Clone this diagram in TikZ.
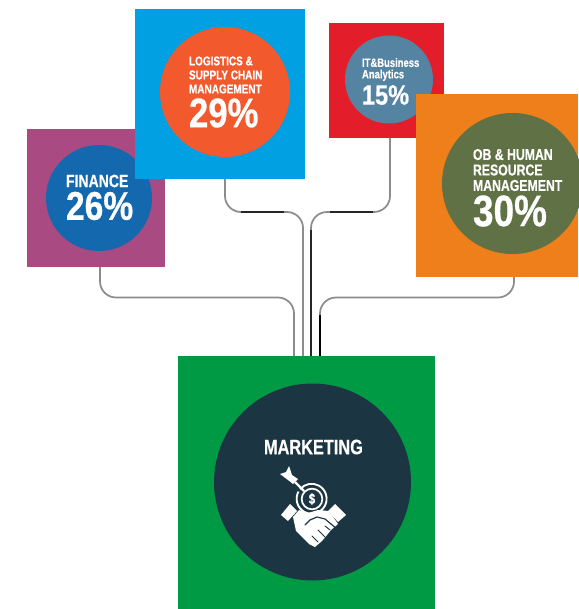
\documentclass[tikz,border=0pt]{standalone}
\usepackage{fontspec}
\setmainfont{Liberation Sans}
\newfontfamily\cond[FakeStretch=0.78,FakeBold=0.4]{Liberation Sans Bold}
\newfontfamily\condpc[FakeStretch=0.84,FakeBold=0.6]{Liberation Sans Bold}
\usetikzlibrary{calc}
\definecolor{finsq}{HTML}{A94A82}
\definecolor{fincc}{HTML}{1468AE}
\definecolor{logsq}{HTML}{00A0E3}
\definecolor{logcc}{HTML}{F2592D}
\definecolor{itsq}{HTML}{E31E2A}
\definecolor{itcc}{HTML}{5584A3}
\definecolor{obsq}{HTML}{EE7F1A}
\definecolor{obcc}{HTML}{5F7145}
\definecolor{mksq}{HTML}{009A44}
\definecolor{mkcc}{HTML}{1C3542}
\newcommand{\pxfont}[2]{\fontsize{#1}{#2}\selectfont\cond}
\newcommand{\pcfont}[1]{\fontsize{#1}{#1}\selectfont\condpc}
\tikzset{
 x=0.75pt,y=-0.75pt,
 sq/.style={draw=none,inner sep=0,outer sep=0,minimum size=#1*0.75pt,shape=rectangle},
 cc/.style={draw=none,inner sep=0,outer sep=0,minimum size=#1*1.5pt,shape=circle},
 lab/.style={anchor=west,inner sep=0,outer sep=0,text=white,align=left},
 link/.style={draw=black!45,line width=1.3pt,rounded corners=12pt},
 linkdark/.style={draw=black!85,line width=1pt},
 ink/.style={fill=white,draw=none},
}
\begin{document}
\begin{tikzpicture}
\useasboundingbox (0,0) rectangle (578,609);
\fill[white] (0,0) rectangle (578,609);
% squares and discs
\node[sq=138,fill=finsq] (finsq) at (96,198) {};
\node[cc=53,fill=fincc] (fincc) at (99,198) {};
\node[sq=170,fill=logsq] (logsq) at (220,94) {};
\node[cc=65,fill=logcc] (logcc) at (225,92) {};
\node[sq=115,fill=itsq] (itsq) at (386.5,80.5) {};
\node[cc=44,fill=itcc] (itcc) at (389,79.5) {};
\node[fill=obsq,inner sep=0,outer sep=0,minimum width=162*0.75pt,minimum height=183*0.75pt] (obsq) at (497,185.5) {};
\node[cc=70.5,fill=obcc] (obcc) at (512.5,183.5) {};
\node[fill=mksq,inner sep=0,outer sep=0,minimum width=257*0.75pt,minimum height=253*0.75pt] (mksq) at (306.5,482.5) {};
\node[cc=98.5,fill=mkcc] (mkcc) at (312.5,482) {};
% connectors
\draw[link] ($(finsq.south)+(4,0)$) -- ++(0,30.5) -| ($(mksq.north)+(-12.5,0)$);
\draw[link] ($(obsq.south)+(17,0)$) -- ++(0,20.5) -| ($(mksq.north)+(13.5,0)$);
\draw[link] (logcc.center |- logsq.south) -- ++(0,33) -| ($(mksq.north)+(-3.5,0)$);
\draw[link] ($(itsq.south)+(3.5,0)$) -- ++(0,74) -| ($(mksq.north)+(4.5,0)$);
% darker stretches of the connectors
\draw[linkdark] (241,212) -- (284,212);
\draw[linkdark] (330,212) -- (373,212);
\draw[linkdark] ($(mksq.north)+(4.5,0)$) -- ++(0,-126);
\draw[draw=black,line width=1.5pt] ($(mksq.north)+(13.5,0)$) -- ++(0,-41);
% labels
\node[lab,font=\pxfont{13.5}{14}] (finlab) at (66,181) {FINANCE};
\node[lab,font=\pcfont{30}] (finpc) at (66,206) {26\%};
\node[lab,font=\pxfont{9.6}{10.5}] (loglab) at (189,75) {LOGISTICS \&\\SUPPLY CHAIN\\MANAGEMENT};
\node[lab,font=\pcfont{31}] (logpc) at (189,113) {29\%};
\node[lab,font=\pxfont{9.1}{8.6}] (itlab) at (362,69.5) {IT\&Business\\Analytics};
\node[lab,font=\pcfont{21}] (itpc) at (362,95) {15\%};
\node[lab,font=\pxfont{11.8}{11.6}] (oblab) at (473,170) {OB \& HUMAN\\RESOURCE\\MANAGEMENT};
\node[lab,font=\pcfont{33}] (obpc) at (473,211) {30\%};
\node[lab,font=\pxfont{15.7}{16}] (mklab) at (264,447) {MARKETING};
% handshake icon
\node[circle,draw=white,line width=1.3pt,minimum size=15.5pt,inner sep=0] (ring) at (312,499) {};
\draw[white,line width=1.4pt] (298.5,491.5) arc (209:-140:15);
\node[text=white,inner sep=0,font=\fontsize{11}{11}\selectfont\cond] (dollar) at (ring.center) {\$};
\draw[white,line width=1.6pt] (ring.north west) -- (295,482);
\fill[ink] (280,474) -- (286,472) -- (289,466) -- (292,475) -- (298,479) -- (293,484) -- (288,480) -- cycle;
\fill[ink] (290,504) -- (281,515) -- (288,521) -- (297,511) -- cycle;
\fill[ink] (335,504) -- (328,511) -- (338,522) -- (346,515) -- cycle;
\fill[ink] (293,517) -- (299,510) -- (308,513) -- (318,510) -- (329,511) -- (338,524) -- (331,530) -- (327,535) -- (322,541) -- (315,547) -- (309,544) -- (302,537) -- (296,531) -- cycle;
\draw[mkcc,line width=.9pt,line cap=round,line join=round] (305,525) -- (310,520) -- (317,517) -- (325,519) -- (337,529);
\draw[mkcc,line width=.7pt,line cap=round] (330,530) -- (325,526) (325,537) -- (318,530) (318,542) -- (312,536);
\end{tikzpicture}
\end{document}
